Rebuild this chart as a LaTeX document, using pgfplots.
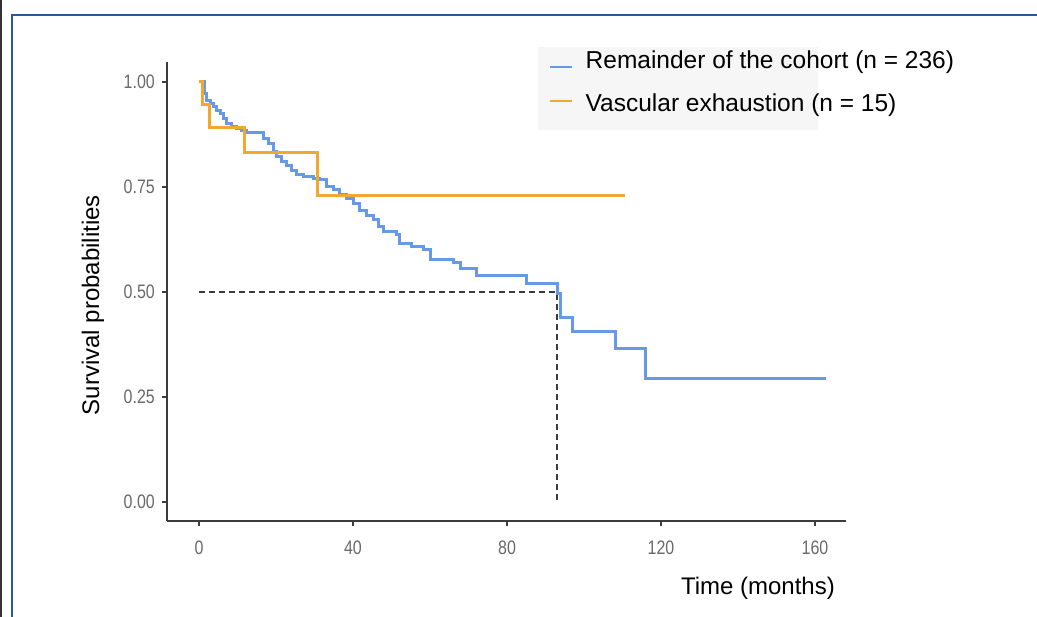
\documentclass[border=0pt]{standalone}
\usepackage{fontspec}
\setmainfont{Liberation Sans}
\newfontfamily\narrowfont[FakeStretch=0.82]{Liberation Sans}
\usepackage{pgfplots}
\pgfplotsset{compat=1.18}
\definecolor{kmblue}{RGB}{102,153,230}
\definecolor{kmorange}{RGB}{240,168,48}
\definecolor{axisgray}{RGB}{60,60,60}
\definecolor{tickgray}{RGB}{105,105,105}
\definecolor{framecol}{RGB}{40,90,150}
\definecolor{legbg}{RGB}{246,246,246}

\begin{document}
\begin{tikzpicture}
\path[use as bounding box] (0pt,0pt) rectangle (1037pt,617pt);
% outer frame
\draw[black!80,line width=2.5pt] (1pt,0pt) -- (1pt,617pt);
\draw[framecol,line width=2pt] (12pt,0pt) -- (12pt,602pt) -- (1037pt,602pt);
% legend background
\fill[legbg] (538pt,487pt) rectangle (818pt,570pt);

\begin{axis}[
  at={(167pt,96pt)}, anchor=south west,
  scale only axis, width=679pt, height=459pt,
  xmin=-8.31, xmax=168.05,
  ymin=-0.0452, ymax=1.0476,
  axis lines=left,
  axis line style={-, axisgray, line width=1.8pt},
  tick style={axisgray, line width=1.8pt},
  tick align=outside,
  major tick length=5pt,
  xtick={0,40,80,120,160},
  xticklabels={0,40,80,120,160},
  ytick={0,0.25,0.5,0.75,1},
  yticklabels={0.00,0.25,0.50,0.75,1.00},
  ticklabel style={font=\narrowfont\fontsize{19.5}{21}\selectfont, text=tickgray, inner sep=0pt},
  xticklabel style={yshift=-15pt},
  yticklabel style={xshift=-7pt},
  xlabel={Time (months)},
  ylabel={Survival probabilities},
  label style={font=\fontsize{24}{28}\selectfont, inner sep=0pt},
  xlabel style={at={(axis description cs:0.9838,-0.146)}, anchor=east},
  ylabel style={at={(axis description cs:-0.109,0.4706)}, anchor=center, rotate=0},
  legend style={at={(axis description cs:0.5626,1.0261)}, anchor=north west,
    draw=none, fill=none, inner sep=0pt, row sep=20pt,
    font=\fontsize{24.5}{28}\selectfont,
    nodes={inner sep=0pt, text height=18pt, text depth=5pt},
    /tikz/every odd column/.append style={column sep=12pt}},
  legend cell align=left,
  clip=false,
]
% median reference lines
\addplot[forget plot, axisgray, line width=2pt, dash pattern=on 6pt off 4pt]
  coordinates {(0,0.5) (93.1,0.5) (93.1,0)};

% Remainder of the cohort
\addplot[const plot, kmblue, line width=3pt,
  legend image code/.code={\draw[kmblue, line width=2.5pt] (0pt,-5.5pt) -- (22pt,-5.5pt);}] coordinates {
  (0,1.000) (1.4,0.973) (2.0,0.957) (2.9,0.949) (3.7,0.941) (4.6,0.933)
  (5.5,0.925) (6.3,0.914) (7.2,0.902) (8.5,0.894) (9.8,0.890) (11.1,0.884)
  (12.4,0.879) (16.7,0.866) (18.0,0.854) (19.3,0.834) (20.2,0.822)
  (21.5,0.810) (22.8,0.802) (24.1,0.790) (25.4,0.779) (27.1,0.775)
  (29.7,0.771) (31.4,0.767) (33.2,0.751) (34.9,0.743) (36.6,0.731)
  (38.4,0.723) (40.1,0.711) (41.8,0.695) (43.6,0.683) (45.3,0.673)
  (46.6,0.655) (47.9,0.644) (51.3,0.636) (52.2,0.616) (55.2,0.608)
  (58.3,0.600) (60.0,0.578) (66.1,0.570) (67.8,0.556) (72.1,0.540)
  (85.0,0.521) (93.1,0.497) (93.8,0.440) (97.0,0.407) (108.1,0.365)
  (116.0,0.295) (162.9,0.295)
};
\addlegendentry{Remainder of the cohort (n = 236)}

% Vascular exhaustion
\addplot[const plot, kmorange, line width=3pt,
  legend image code/.code={\draw[kmorange, line width=2.5pt] (0pt,3.5pt) -- (22pt,3.5pt);}] coordinates {
  (0,1.000) (0.9,0.947) (2.7,0.892) (11.8,0.833) (30.7,0.729) (110.6,0.729)
};
\addlegendentry{Vascular exhaustion (n = 15)}
\end{axis}
\end{tikzpicture}
\end{document}
